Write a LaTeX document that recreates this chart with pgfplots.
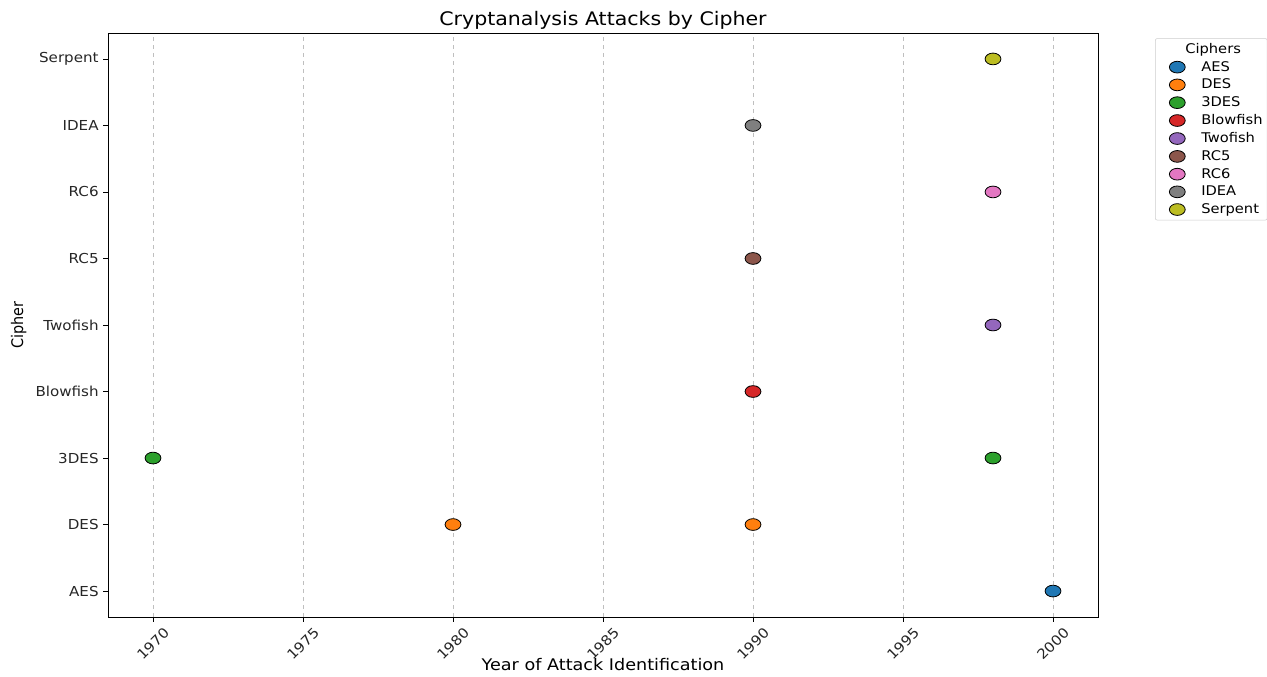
\documentclass[border=0pt]{standalone}
\usepackage{fontspec}
\setmainfont{DejaVu Sans}[FakeStretch=1.1]
\newfontfamily\condfont{DejaVu Sans}[FakeStretch=0.9]
\usepackage{pgfplots}
\pgfplotsset{compat=1.18}
\definecolor{c0}{HTML}{1F77B4}
\definecolor{c1}{HTML}{FF7F0E}
\definecolor{c2}{HTML}{2CA02C}
\definecolor{c3}{HTML}{D62728}
\definecolor{c4}{HTML}{9467BD}
\definecolor{c5}{HTML}{8C564B}
\definecolor{c6}{HTML}{E377C2}
\definecolor{c7}{HTML}{7F7F7F}
\definecolor{c8}{HTML}{BCBD22}
\pgfplotsset{
  mymark/.style={only marks, mark=*, mark size=4.4pt,
     mark options={xscale=1.35, draw=black, line width=0.6pt, fill=#1},
     legend image code/.code={\path[draw=none,fill=none] (0pt,0pt) -- (31pt,0pt); \draw[##1] plot coordinates {(15pt,0pt)};}},
}
\begin{document}
\begin{tikzpicture}
\useasboundingbox (-81pt,-45pt) rectangle (869.25pt,462.75pt);
\begin{axis}[
  at={(0,0)}, anchor=south west,
  scale only axis,
  width=742.5pt, height=438pt,
  xmin=1968.5, xmax=2001.5,
  ymin=-0.39, ymax=8.39,
  xtick={1970,1975,1980,1985,1990,1995,2000},
  ytick={0,1,2,3,4,5,6,7,8},
  yticklabels={AES,DES,3DES,Blowfish,Twofish,RC5,RC6,IDEA,Serpent},
  /pgf/number format/assume math mode=true,
  /pgf/number format/1000 sep={},
  tick align=outside,
  major tick length=3.5pt,
  tick style={black, line width=0.6pt},
  xtick pos=bottom, ytick pos=left,
  axis line style={black, line width=0.6pt},
  xmajorgrids=true,
  grid style={dashed, gray!50, line width=0.5pt},
  tick label style={font=\fontsize{10.3}{12}\selectfont, text=black!85},
  xticklabel style={rotate=45, anchor=center, xshift=-11.7pt, yshift=-11.7pt},
  title={Cryptanalysis Attacks by Cipher},
  title style={font=\fontsize{14}{16}\selectfont, yshift=-6.5pt},
  xlabel={Year of Attack Identification},
  ylabel={Cipher},
  xlabel style={font=\fontsize{12}{14}\selectfont, yshift=10pt},
  ylabel style={font=\condfont\fontsize{12}{14}\selectfont},
  legend style={at={(1.0576,0.991)}, anchor=north west,
    font=\fontsize{10}{11.5}\selectfont, draw=black!20, rounded corners=1.5pt,
    row sep=0.4pt, inner sep=1.5pt, nodes={inner xsep=2pt}},
  legend cell align=left,
]
\addlegendimage{empty legend}
\addlegendentry{\hspace{-12pt}Ciphers}
\addplot[mymark=c0] coordinates {(2000,0)};
\addlegendentry{AES}
\addplot[mymark=c1] coordinates {(1980,1) (1990,1)};
\addlegendentry{DES}
\addplot[mymark=c2] coordinates {(1970,2) (1998,2)};
\addlegendentry{3DES}
\addplot[mymark=c3] coordinates {(1990,3)};
\addlegendentry{Blowfish}
\addplot[mymark=c4] coordinates {(1998,4)};
\addlegendentry{Twofish}
\addplot[mymark=c5] coordinates {(1990,5)};
\addlegendentry{RC5}
\addplot[mymark=c6] coordinates {(1998,6)};
\addlegendentry{RC6}
\addplot[mymark=c7] coordinates {(1990,7)};
\addlegendentry{IDEA}
\addplot[mymark=c8] coordinates {(1998,8)};
\addlegendentry{Serpent}
\end{axis}
\end{tikzpicture}
\end{document}
